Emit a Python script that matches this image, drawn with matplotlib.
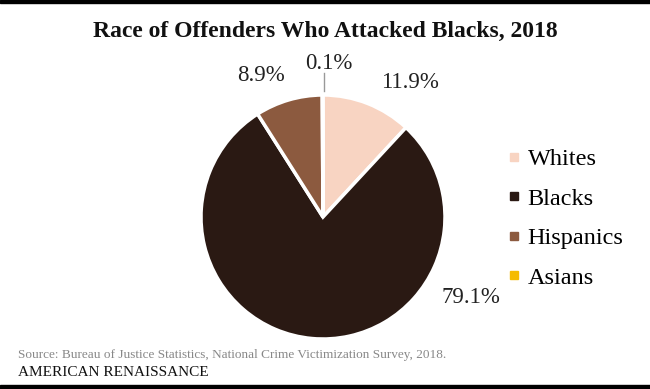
import matplotlib
matplotlib.use("Agg")
import matplotlib.pyplot as plt
from matplotlib.lines import Line2D

plt.rcParams['font.family'] = ['Liberation Serif', 'DejaVu Serif']

groups = ['Whites', 'Blacks', 'Hispanics', 'Asians']
shares = [11.9, 79.1, 8.9, 0.1]
colors = ['#f8d4c2', '#2a1913', '#8c5a3f', '#f5bb00']
pct_labels = ['11.9%', '79.1%', '8.9%', '0.1%']
# label positions in pie units (radius = 1)
label_xy = [(0.71, 1.10), (1.21, -0.66), (-0.51, 1.16), (0.05, 1.26)]

W, H = 650, 389
fig = plt.figure(figsize=(W / 100, H / 100), dpi=100)

# black rules top and bottom
fig.add_artist(plt.Rectangle((0, 1 - 3 / H), 1, 3 / H, transform=fig.transFigure, color='black'))
fig.add_artist(plt.Rectangle((0, 0), 1, 4 / H, transform=fig.transFigure, color='black'))

R = 122
cx, cy = 323, 217
ax = fig.add_axes([(cx - R) / W, (H - cy - R) / H, 2 * R / W, 2 * R / H])
wedges, _ = ax.pie(shares, colors=colors, startangle=90, counterclock=False,
                   radius=1, wedgeprops=dict(edgecolor='white', linewidth=2.5))
ax.set_xlim(-1, 1)
ax.set_ylim(-1, 1)
ax.set_aspect('equal')
ax.axis('off')

for txt, (x, y) in zip(pct_labels, label_xy):
    ax.text(x, y, txt, ha='center', va='center', fontsize=16.5, color='#222222')
ax.plot([0.01, 0.01], [1.03, 1.18], color='#999999', lw=1, clip_on=False)

fig.text(0.5, 1 - 31 / H, 'Race of Offenders Who Attacked Blacks, 2018',
         ha='center', va='center', fontsize=17, fontweight='bold', color='#111111')

handles = [Line2D([], [], marker='s', linestyle='none', markersize=5.5,
                  markerfacecolor=c, markeredgecolor=c) for c in colors]
fig.legend(handles, groups, loc='upper left', bbox_to_anchor=(496 / W, 1 - 136 / H),
           frameon=False, fontsize=17.5, handlelength=0.5, handletextpad=0.3,
           labelspacing=0.72, borderpad=0)

fig.text(18 / W, 1 - 355 / H,
         'Source: Bureau of Justice Statistics, National Crime Victimization Survey, 2018.',
         ha='left', va='center', fontsize=9.5, color='#888888')
fig.text(18 / W, 1 - 372 / H, 'AMERICAN RENAISSANCE', ha='left', va='center',
         fontsize=11, color='#111111')

fig.savefig('out.png', dpi=100)
